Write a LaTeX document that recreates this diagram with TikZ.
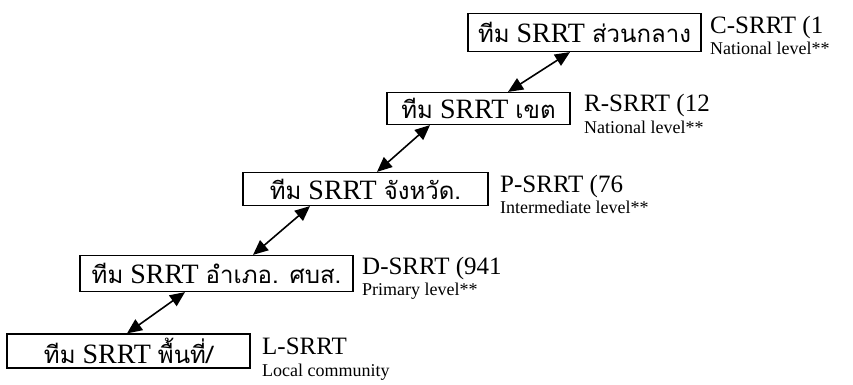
\documentclass[tikz,border=0pt]{standalone}
\usepackage{fontspec}
\setmainfont{Liberation Serif}
\newfontfamily\thaifont[Script=Thai]{Loma}
\usetikzlibrary{arrows.meta}
\newcommand{\thtxt}[1]{{\thaifont\fontsize{24}{26}\selectfont #1}}
\tikzset{
  lvlbox/.style={draw, line width=1.2pt, inner sep=0pt, font=\fontsize{28}{30}\selectfont},
  lvlname/.style={anchor=base west, inner sep=0pt, font=\fontsize{25}{27}\selectfont},
  lvlnote/.style={anchor=base west, inner sep=0pt, font=\fontsize{18}{20}\selectfont},
  link/.style={line width=1.6pt, {Triangle[length=15pt,width=13pt]}-{Triangle[length=15pt,width=13pt]}}
}
\begin{document}
\begin{tikzpicture}[x=1pt,y=-1pt]
\useasboundingbox (0,0) rectangle (853,385);
\node[lvlbox, minimum width=233pt, minimum height=38pt] (C) at (584.5,32.5) {\thtxt{ทีม} SRRT \thtxt{ส่วนกลาง}};
\node[lvlbox, minimum width=183pt, minimum height=32pt] (R) at (478.5,108.5) {\thtxt{ทีม} SRRT \thtxt{เขต}};
\node[lvlbox, minimum width=245pt, minimum height=33pt] (P) at (365.5,189) {\thtxt{ทีม} SRRT \thtxt{จังหวัด.}};
\node[lvlbox, minimum width=273pt, minimum height=36pt] (D) at (216.5,273.5) {\thtxt{ทีม} SRRT \thtxt{อำเภอ. ศบส.}};
\node[lvlbox, minimum width=243pt, minimum height=34pt] (L) at (128.5,351) {\thtxt{ทีม} SRRT \thtxt{พื้นที่/}};

\node[lvlname] (Ct) at (710,34) {C-SRRT (1};
\node[lvlnote] (Cn) at (710,55) {National level**};
\node[lvlname] (Rt) at (584,112) {R-SRRT (12};
\node[lvlnote] (Rn) at (584,133) {National level**};
\node[lvlname] (Pt) at (500,192) {P-SRRT (76};
\node[lvlnote] (Pn) at (500,213) {Intermediate level**};
\node[lvlname] (Dt) at (362,274) {D-SRRT (941};
\node[lvlnote] (Dn) at (362,295) {Primary level**};
\node[lvlname] (Lt) at (262,354) {L-SRRT};
\node[lvlnote] (Ln) at (262,376) {Local community};

\draw[link] ([xshift=-14.5pt]C.south) -- ([xshift=29.5pt]R.north);
\draw[link] ([xshift=-48.5pt]R.south) -- ([xshift=11.5pt]P.north);
\draw[link] ([xshift=-55.5pt]P.south) -- ([xshift=36.5pt]D.north);
\draw[link] ([xshift=-31.5pt]D.south) -- ([xshift=-1.5pt]L.north);
\end{tikzpicture}
\end{document}
